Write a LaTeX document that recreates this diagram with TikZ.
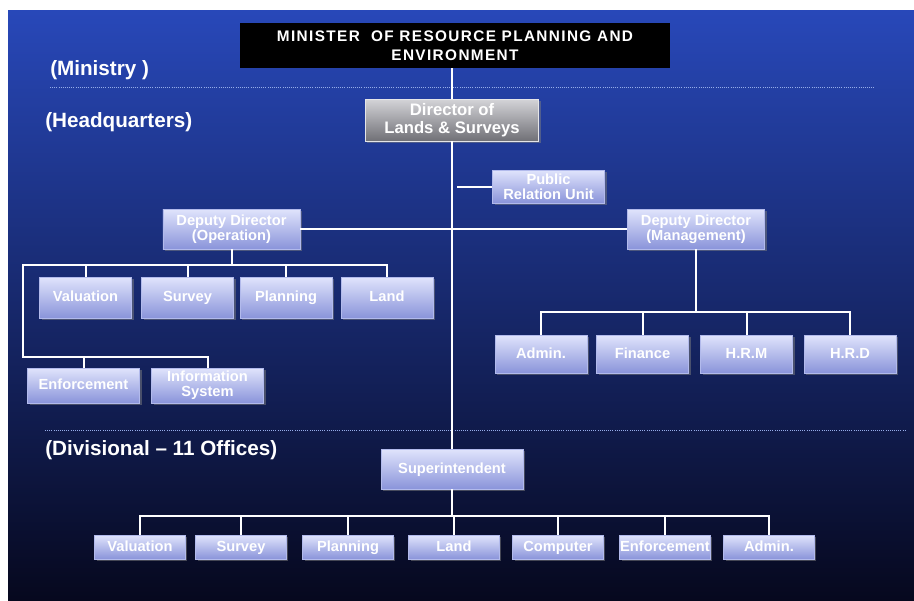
\documentclass[tikz,border=0pt]{standalone}
\usepackage{fontspec}
\setmainfont{Liberation Sans}
\newfontfamily\minfont[LetterSpace=9]{Liberation Sans}
\usetikzlibrary{shadows}
\definecolor{bgtop}{RGB}{40,72,185}
\definecolor{bgmid}{RGB}{24,44,128}
\definecolor{bgbot}{RGB}{6,8,30}
\definecolor{boxtop}{RGB}{224,228,252}
\definecolor{boxbot}{RGB}{138,148,218}
\definecolor{boxedge}{RGB}{178,186,236}
\definecolor{dirtop}{RGB}{212,212,216}
\definecolor{dirbot}{RGB}{112,112,118}
\definecolor{rulecol}{RGB}{150,172,232}
\tikzset{
  unit/.style={draw=boxedge, top color=boxtop, bottom color=boxbot, text=white,
    font=\fontsize{11}{11.5}\selectfont\bfseries, align=center, inner sep=0pt,
    drop shadow={opacity=0.5, shadow xshift=1.5pt, shadow yshift=-1.5pt}},
  oneline/.style={unit, text height=8pt, text depth=2pt},
  opbox/.style={oneline, minimum width=69pt, minimum height=30.75pt},
  enfbox/.style={unit, minimum width=84pt, minimum height=26.25pt},
  mgbox/.style={oneline, minimum width=69pt, minimum height=28.5pt},
  divbox/.style={oneline, minimum width=68pt, minimum height=18pt},
  link/.style={draw=white, line width=1.5pt},
  level/.style={text=white, font=\fontsize{15.5}{17}\selectfont\bfseries, anchor=west, inner sep=0pt},
}
\begin{document}
\begin{tikzpicture}[x=0.75pt,y=-0.75pt]
\useasboundingbox (0,0) rectangle (914,600);
\fill[white] (0,0) rectangle (914,600);
\shade[top color=bgtop, middle color=bgmid, bottom color=bgbot] (8,10) rectangle (914,600);
\draw[rulecol, densely dotted, line width=0.6pt] (50,87) -- (875,87);
\draw[rulecol, densely dotted, line width=0.6pt] (45,430) -- (905,430);
%% levels
\node[level] (lmin) at (50,70) {(Ministry )};
\node[level] (lhq) at (45,122) {(Headquarters)};
\node[level] (ldiv) at (45,450) {(Divisional -- 11 Offices)};
%% top
\node[fill=black, text=white, minimum width=322.5pt, minimum height=33.75pt, inner sep=0pt, align=center,
  font=\minfont\fontsize{11.5}{14}\selectfont\bfseries] (min) at (455,45.5) {MINISTER~ OF RESOURCE PLANNING AND\\ENVIRONMENT};
\node[draw=dirtop!60!white, top color=dirtop, bottom color=dirbot, text=white, align=center, inner sep=0pt,
  minimum width=130pt, minimum height=31.5pt, font=\fontsize{12.5}{13.5}\selectfont\bfseries,
  drop shadow={opacity=0.5, shadow xshift=1.5pt, shadow yshift=-1.5pt}] (dir) at (452,120) {Director of\\Lands \& Surveys};
\node[unit, minimum width=84pt, minimum height=24.75pt] (pr) at (548.5,186.5) {Public\\Relation Unit};
\node[unit, minimum width=103pt, minimum height=30pt] (ddop) at (231.5,229) {Deputy Director\\(Operation)};
\node[unit, minimum width=103pt, minimum height=30pt] (ddmg) at (696,229) {Deputy Director\\(Management)};
%% operation
\node[opbox] (val) at (85.5,297.5) {Valuation};
\node[opbox] (sur) at (187.5,297.5) {Survey};
\node[opbox] (pla) at (286,297.5) {Planning};
\node[opbox] (land) at (387,297.5) {Land};
\node[enfbox, text height=8pt, text depth=2pt] (enf) at (83.5,385.5) {Enforcement};
\node[enfbox] (info) at (207.5,385.5) {Information\\System};
%% management
\node[mgbox] (adm) at (541,354) {Admin.};
\node[mgbox] (fin) at (642.5,354) {Finance};
\node[mgbox] (hrm) at (746.5,354) {H.R.M};
\node[mgbox] (hrd) at (850,354) {H.R.D};
%% divisional
\node[oneline, minimum width=106.5pt, minimum height=30pt] (sup) at (452,469) {Superintendent};
\node[divbox] (dval) at (140,547) {Valuation};
\node[divbox] (dsur) at (241,547) {Survey};
\node[divbox] (dpla) at (348,547) {Planning};
\node[divbox] (dland) at (454,547) {Land};
\node[divbox] (dcom) at (558,547) {Computer};
\node[divbox] (denf) at (665,547) {Enforcement};
\node[divbox] (dadm) at (769,547) {Admin.};
%% connectors
\coordinate (opbus) at (23,265);
\coordinate (enfbus) at (23,357);
\coordinate (mgbus) at (696,312);
\coordinate (divbus) at (452,516);
\draw[link] (min.south -| dir) -- (dir.north);
\draw[link] (dir.south) -- (sup.north);
\draw[link, shorten >=4pt] (pr.west) -- (pr.west -| dir.center);
\draw[link] (ddop.east) -- (ddmg.west);
\draw[link] (ddop.south) -- (ddop.south |- opbus);
\draw[link] (land.north) |- (opbus) -- (enfbus) -| (info.north);
\foreach \n in {val,sur,pla} \draw[link] (\n.north) -- (\n.north |- opbus);
\draw[link] (enf.north) -- (enf.north |- enfbus);
\draw[link] (ddmg.south) -- (mgbus);
\draw[link] (adm.north) |- (mgbus) -| (hrd.north);
\foreach \n in {fin,hrm} \draw[link] (\n.north) -- (\n.north |- mgbus);
\draw[link] (sup.south) -- (divbus);
\draw[link] (dval.north) |- (divbus) -| (dadm.north);
\foreach \n in {dsur,dpla,dland,dcom,denf} \draw[link] (\n.north) -- (\n.north |- divbus);
\end{tikzpicture}
\end{document}
